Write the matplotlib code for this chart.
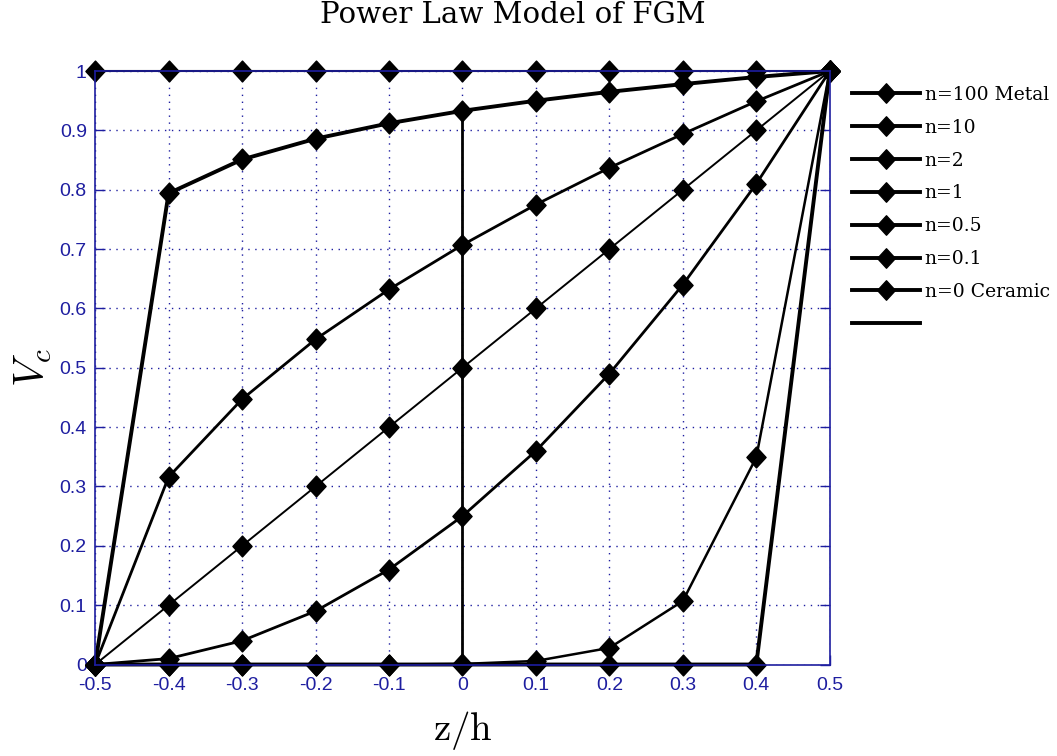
import matplotlib
matplotlib.use("Agg")
import matplotlib.pyplot as plt
from matplotlib.path import Path

plt.rcParams["axes.unicode_minus"] = False
plt.rcParams["mathtext.fontset"] = "cm"

# data
z = [-0.5, -0.4, -0.3, -0.2, -0.1, 0.0, 0.1, 0.2, 0.3, 0.4, 0.5]
vc_n100 = [0, 0, 0, 0, 0, 0, 0, 0, 0, 0, 1.0]
vc_n10 = [0, 0, 0, 0, 0, 0.001, 0.006, 0.028, 0.107, 0.349, 1.0]
vc_n2 = [0, 0.01, 0.04, 0.09, 0.16, 0.25, 0.36, 0.49, 0.64, 0.81, 1.0]
vc_n1 = [0, 0.1, 0.2, 0.3, 0.4, 0.5, 0.6, 0.7, 0.8, 0.9, 1.0]
vc_n05 = [0, 0.316, 0.447, 0.548, 0.632, 0.707, 0.775, 0.837, 0.894, 0.949, 1.0]
vc_n01 = [0, 0.794, 0.851, 0.886, 0.912, 0.933, 0.950, 0.965, 0.978, 0.990, 1.0]
vc_n0 = [1, 1, 1, 1, 1, 1, 1, 1, 1, 1, 1]
labels = ["n=100 Metal", "n=10", "n=2", "n=1", "n=0.5", "n=0.1", "n=0 Ceramic"]
# the extra marker-less line at z/h = 0
mid_z = [0.0, 0.0]
mid_vc = [0.0, 0.933]

series = [vc_n100, vc_n10, vc_n2, vc_n1, vc_n05, vc_n01, vc_n0]
widths = [2.8, 1.8, 2.0, 1.4, 2.0, 2.8, 1.5]

blue = "#1e1ea0"

# matlab style diamond, a bit taller than wide
diamond = Path([(0, 1), (0.92, 0), (0, -1), (-0.92, 0), (0, 1)],
               [Path.MOVETO, Path.LINETO, Path.LINETO, Path.LINETO, Path.CLOSEPOLY])

fig = plt.figure(figsize=(10.57, 7.56), dpi=100)
ax = fig.add_axes([0.090, 0.121, 0.695, 0.785])

for vals, lab, lw in zip(series, labels, widths):
    ax.plot(z, vals, color="black", lw=lw, marker=diamond, markersize=15,
            label=lab, clip_on=False, zorder=3)
ax.plot(mid_z, mid_vc, color="black", lw=2.0, label=" ", zorder=3)

ax.set_xlim(-0.5, 0.5)
ax.set_ylim(0, 1)
ax.set_xticks([-0.5, -0.4, -0.3, -0.2, -0.1, 0, 0.1, 0.2, 0.3, 0.4, 0.5])
ax.set_xticklabels(["-0.5", "-0.4", "-0.3", "-0.2", "-0.1", "0", "0.1", "0.2", "0.3", "0.4", "0.5"])
ax.set_yticks([0, 0.1, 0.2, 0.3, 0.4, 0.5, 0.6, 0.7, 0.8, 0.9, 1])
ax.set_yticklabels(["0", "0.1", "0.2", "0.3", "0.4", "0.5", "0.6", "0.7", "0.8", "0.9", "1"])

ax.grid(True, linestyle=(0, (1, 4)), color=blue, linewidth=1.0)
ax.tick_params(direction="in", length=7, width=1, colors=blue, labelsize=14,
               top=True, right=True)
ax.tick_params(axis="x", pad=9)
ax.tick_params(axis="y", pad=6)
for lab in ax.get_xticklabels() + ax.get_yticklabels():
    lab.set_family("Liberation Sans")
for sp in ax.spines.values():
    sp.set_color(blue)
    sp.set_linewidth(1.2)
    sp.set_zorder(5)

fig.text(513 / 1057, 1 - 23 / 756, "Power Law Model of FGM", family="DejaVu Serif",
         fontsize=21, ha="center", va="baseline")
ax.set_xlabel(r"$\mathrm{z/h}$", fontsize=28, va="top")
ax.xaxis.set_label_coords(0.5, -0.075)
ax.set_ylabel(r"$V_c$", fontsize=30, labelpad=4)

leg = ax.legend(loc="upper left", bbox_to_anchor=(852 / 1057, 1 - 86 / 756),
                bbox_transform=fig.transFigure, frameon=False,
                prop={"family": "DejaVu Serif", "size": 13.5},
                handlelength=3.6, handletextpad=0.27, labelspacing=0.79,
                borderpad=0, borderaxespad=0)
for h in leg.get_lines():
    h.set_linewidth(2.8)
    h.set_markersize(14)

fig.savefig("out.png", dpi=100)
